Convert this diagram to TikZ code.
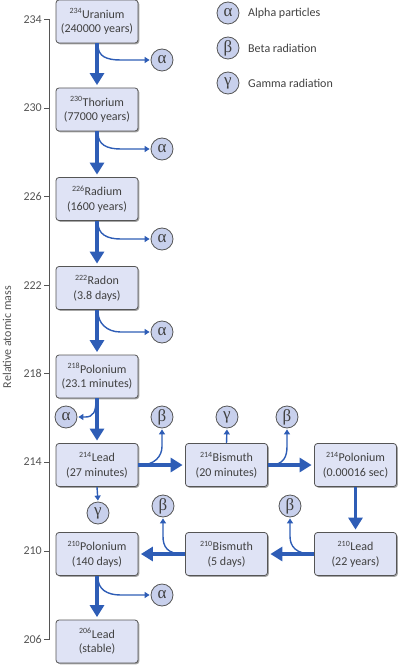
\documentclass[tikz,border=0pt]{standalone}
\usepackage{fontspec}
\setmainfont{Carlito}
\newfontfamily\greekfont{Liberation Serif}
\usetikzlibrary{arrows.meta,shadows,calc}
\definecolor{boxfill}{HTML}{DFE3F5}
\definecolor{circfill}{HTML}{C8D0EC}
\definecolor{edgegray}{HTML}{555555}
\definecolor{txtgray}{HTML}{404040}
\definecolor{arrblue}{HTML}{2E5DB6}
\begin{document}
\begin{tikzpicture}[x=1pt,y=-1pt,
  nbox/.style={draw=edgegray,line width=0.8pt,fill=boxfill,rounded corners=3pt,
    minimum width=82pt,minimum height=43pt,inner sep=0pt,align=center,
    text=txtgray,font=\fontsize{12}{14.5}\selectfont,
    drop shadow={shadow xshift=1.3pt,shadow yshift=-1.3pt,opacity=0.35,fill=black}},
  pcirc/.style={circle,draw=edgegray,line width=0.8pt,fill=circfill,minimum size=22pt,
    inner sep=0pt,text=txtgray,font=\greekfont\fontsize{17}{17}\selectfont},
  mainarr/.style={draw=arrblue,line width=3.5pt,-{Triangle[width=14pt,length=12pt]},shorten >=2.5pt},
  br/.style={draw=arrblue,line width=1.4pt,-{Triangle[width=6pt,length=5pt]},shorten >=1pt},
  ticklab/.style={text=edgegray,font=\fontsize{12}{13}\selectfont,anchor=east,inner sep=0pt},
  legtext/.style={text=txtgray,font=\fontsize{12}{13}\selectfont,anchor=west,inner sep=0pt}
]
\useasboundingbox (0,0) rectangle (401,668);

% axis
\draw[edgegray,line width=0.8pt] (49,19.5) -- (49,639.5);
\foreach \m/\yy in {234/19.5,230/108,226/196.7,222/285.5,218/373,214/462,210/551,206/639.5}{
  \draw[edgegray,line width=0.8pt] (44,\yy) -- (49,\yy);
  \node[ticklab] (t\m) at (42,\yy) {\m};
}
\node[text=edgegray,font=\fontsize{12}{13}\selectfont,rotate=90,inner sep=0pt] (axl) at (7,337) {Relative atomic mass};

% boxes
\node[nbox] (U) at (97,21.5) {\textsuperscript{234}Uranium\\(240000 years)};
\node[nbox] (T) at (97,109.5) {\textsuperscript{230}Thorium\\(77000 years)};
\node[nbox] (Ra) at (97,199) {\textsuperscript{226}Radium\\(1600 years)};
\node[nbox] (Rn) at (97,288) {\textsuperscript{222}Radon\\(3.8 days)};
\node[nbox] (PoA) at (97,376.5) {\textsuperscript{218}Polonium\\(23.1 minutes)};
\node[nbox] (PbA) at (97,465) {\textsuperscript{214}Lead\\(27 minutes)};
\node[nbox] (BiA) at (226.5,465) {\textsuperscript{214}Bismuth\\(20 minutes)};
\node[nbox] (PoB) at (355.5,465) {\textsuperscript{214}Polonium\\(0.00016 sec)};
\node[nbox] (PbB) at (355.5,554) {\textsuperscript{210}Lead\\(22 years)};
\node[nbox] (BiB) at (226.5,554) {\textsuperscript{210}Bismuth\\(5 days)};
\node[nbox] (PoC) at (97,554) {\textsuperscript{210}Polonium\\(140 days)};
\node[nbox] (PbC) at (97,641.5) {\textsuperscript{206}Lead\\(stable)};

% radiation circles
\node[pcirc] (a1) at (162,60) {α};
\node[pcirc] (a2) at (162,149) {α};
\node[pcirc] (a3) at (162,239) {α};
\node[pcirc] (a4) at (162,332) {α};
\node[pcirc] (a5) at (66,417) {α};
\node[pcirc] (b1) at (162,417) {β};
\node[pcirc] (g1) at (98,513) {γ};
\node[pcirc] (g2) at (227,417) {γ};
\node[pcirc] (b2) at (287,417) {β};
\node[pcirc] (b3) at (163,506) {β};
\node[pcirc] (b4) at (290,506) {β};
\node[pcirc] (a6) at (162,595) {α};

% legend
\node[pcirc] (la) at (228,13) {α};
\node[pcirc] (lb) at (228,48) {β};
\node[pcirc] (lg) at (228,83) {γ};
\node[legtext] (lta) at (248,13) {Alpha particles};
\node[legtext] (ltb) at (248,48) {Beta radiation};
\node[legtext] (ltg) at (248,83) {Gamma radiation};

% main decay arrows
\draw[mainarr] (U.south) -- (T.north);
\draw[mainarr] (T.south) -- (Ra.north);
\draw[mainarr] (Ra.south) -- (Rn.north);
\draw[mainarr] (Rn.south) -- (PoA.north);
\draw[mainarr] (PoA.south) -- (PbA.north);
\draw[mainarr] (PbA.east) -- (BiA.west);
\draw[mainarr] (BiA.east) -- (PoB.west);
\draw[mainarr] (PoB.south) -- (PbB.north);
\draw[mainarr] (PbB.west) -- (BiB.east);
\draw[mainarr] (BiB.west) -- (PoC.east);
\draw[mainarr] (PoC.south) -- (PbC.north);

% branch arrows (alpha right)
\foreach \src/\dst in {U/a1,T/a2,Ra/a3,Rn/a4,PoC/a6}{
  \draw[br] ($(\src.south)+(1,2)$) .. controls +(0,11) and +(-14,0) .. ($(\dst.west)+(-30,0)$) -- (\dst.west);
}
% alpha left
\draw[br] ($(PoA.south)+(-1,2)$) .. controls +(0,11) and +(8,0) .. ($(a5.east)+(8,0)$) -- (a5.east);
% beta up from horizontal arrows (rightwards)
\draw[br] ($(PbA.east)+(2,0)$) .. controls +(14,0) and +(0,10) .. ($(b1.south)+(0,18)$) -- (b1.south);
\draw[br] ($(BiA.east)+(2,0)$) .. controls +(14,0) and +(0,10) .. ($(b2.south)+(0,18)$) -- (b2.south);
% beta up from horizontal arrows (leftwards)
\draw[br] ($(PbB.west)+(-2,0)$) .. controls +(-16,0) and +(0,10) .. ($(b4.south)+(0,19)$) -- (b4.south);
\draw[br] ($(BiB.west)+(-2,0)$) .. controls +(-16,0) and +(0,10) .. ($(b3.south)+(0,19)$) -- (b3.south);
% gamma
\draw[br] (PbA.south) -- (g1.north);
\draw[br] (BiA.north) -- (g2.south);
\end{tikzpicture}
\end{document}
